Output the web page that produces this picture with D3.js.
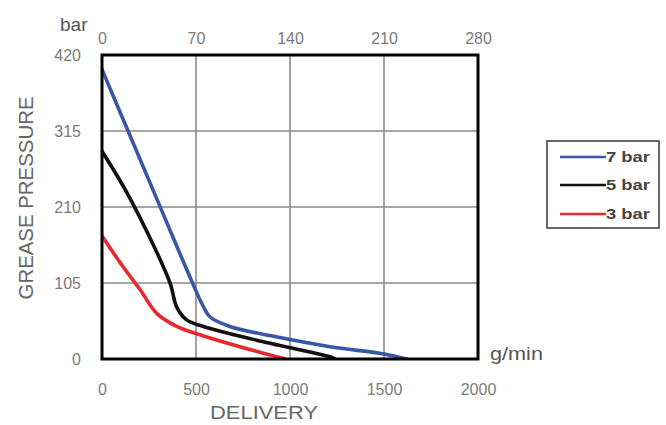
<!DOCTYPE html>
<html>
<head>
<meta charset="utf-8">
<script src="https://cdn.jsdelivr.net/npm/d3@7"></script>
<style>
  html, body { margin: 0; padding: 0; background: #fff; }
  svg { display: block; font-family: "Liberation Sans", Arial, Helvetica, sans-serif; }
</style>
</head>
<body>
<svg id="chart" width="666" height="425"></svg>
<script>
// ---- data ----
const deliveryTicks = [0, 500, 1000, 1500, 2000];
const pressureTicks = [0, 105, 210, 315, 420];
const topTicks = [0, 70, 140, 210, 280];

const series = ["7 bar", "5 bar", "3 bar"];
const delivery7 = [0, 150, 300, 450, 540, 575, 680, 900, 1213, 1500, 1620];
const pressure7 = [400, 308, 216, 124, 72, 58, 45, 32, 17, 7, 0];
const delivery5 = [0, 149, 362, 397, 450, 539, 823, 1213, 1240];
const pressure5 = [287, 222, 105, 72, 54, 45, 26, 3, 0];
const delivery3 = [0, 113, 202, 291, 397, 503, 929, 975];
const pressure3 = [170, 127, 96, 63, 45, 35, 3, 0];
const colors = ["#3a57a6", "#111111", "#e8282e"];

// ---- layout ----
const svg = d3.select("#chart");
const L = 102, R = 478, T = 55, B = 359;
const x = d3.scaleLinear().domain([0, 2000]).range([L, R]);
const xTop = d3.scaleLinear().domain([0, 280]).range([L, R]);
const y = d3.scaleLinear().domain([0, 420]).range([B, T]);

// grid
const g = svg.append("g");
g.selectAll("line.vx").data(deliveryTicks.slice(1, -1)).join("line")
  .attr("x1", d => x(d)).attr("x2", d => x(d)).attr("y1", T).attr("y2", B)
  .attr("stroke", "#8a8a8a").attr("stroke-width", 1.6);
g.selectAll("line.hy").data(pressureTicks.slice(1, -1)).join("line")
  .attr("x1", L).attr("x2", R).attr("y1", d => y(d)).attr("y2", d => y(d))
  .attr("stroke", "#8a8a8a").attr("stroke-width", 1.6);

// axes (labels only, via d3 axes)
const axB = svg.append("g").attr("transform", `translate(0,${B + 22})`)
  .call(d3.axisBottom(x).tickValues(deliveryTicks).tickSize(0).tickFormat(d3.format("d")));
const axT = svg.append("g").attr("transform", `translate(0,${T - 8})`)
  .call(d3.axisTop(xTop).tickValues(topTicks).tickSize(0).tickFormat(d3.format("d")));
const axL = svg.append("g").attr("transform", `translate(${L - 18},0)`)
  .call(d3.axisLeft(y).tickValues(pressureTicks).tickSize(0).tickFormat(d3.format("d")));
[axB, axT, axL].forEach(a => {
  a.select(".domain").remove();
  a.selectAll("text").attr("font-size", 16).attr("fill", "#7a7a7a")
    .attr("font-family", "'Liberation Sans', Arial, sans-serif");
});
axT.selectAll("text").attr("dy", "0");

// lines
const line = d3.line().x(d => x(d[0])).y(d => y(d[1])).curve(d3.curveCatmullRom.alpha(0.5));
const data = [
  d3.zip(delivery7, pressure7),
  d3.zip(delivery5, pressure5),
  d3.zip(delivery3, pressure3)
];
svg.append("clipPath").attr("id", "clip")
  .append("rect").attr("x", L).attr("y", T).attr("width", R - L).attr("height", B - T);
svg.append("g").attr("clip-path", "url(#clip)")
  .selectAll("path").data(data).join("path")
  .attr("d", line).attr("fill", "none")
  .attr("stroke", (d, i) => colors[i]).attr("stroke-width", 3.6)
  .attr("stroke-linejoin", "round").attr("stroke-linecap", "round");

// frame
svg.append("rect").attr("x", L).attr("y", T).attr("width", R - L).attr("height", B - T)
  .attr("fill", "none").attr("stroke", "#000").attr("stroke-width", 3);

// titles
svg.append("text").attr("x", 60).attr("y", 31).text("bar")
  .attr("font-size", 19).attr("fill", "#555");
svg.append("text").attr("x", 490).attr("y", 360).text("g/min")
  .attr("font-size", 19).attr("fill", "#555").attr("textLength", 53).attr("lengthAdjust", "spacingAndGlyphs");
svg.append("text").attr("x", 264).attr("y", 419).attr("text-anchor", "middle").text("DELIVERY")
  .attr("font-size", 19).attr("fill", "#666").attr("textLength", 108).attr("lengthAdjust", "spacingAndGlyphs");
svg.append("text").attr("transform", "translate(33,198) rotate(-90)").attr("text-anchor", "middle")
  .text("GREASE PRESSURE").attr("font-size", 20).attr("fill", "#666")
  .attr("textLength", 203).attr("lengthAdjust", "spacingAndGlyphs");

// legend
const lg = svg.append("g");
lg.append("rect").attr("x", 547).attr("y", 141).attr("width", 112).attr("height", 87)
  .attr("fill", "#fff").attr("stroke", "#444").attr("stroke-width", 1.6);
const ly = [157, 185, 214];
series.forEach((s, i) => {
  lg.append("line").attr("x1", 560).attr("x2", 606).attr("y1", ly[i]).attr("y2", ly[i])
    .attr("stroke", colors[i]).attr("stroke-width", 2.6);
  lg.append("text").attr("x", 606).attr("y", ly[i] + 5).text(s)
    .attr("font-size", 14).attr("font-weight", "bold").attr("fill", "#444")
    .attr("textLength", 44).attr("lengthAdjust", "spacingAndGlyphs");
});
</script>
</body>
</html>
